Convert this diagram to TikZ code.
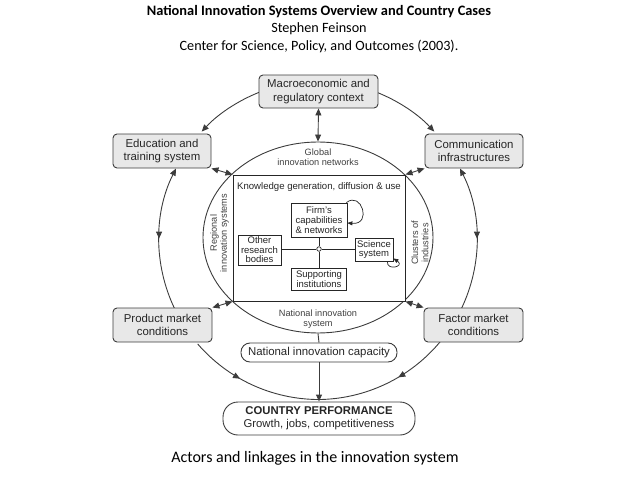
\documentclass[tikz,border=0pt]{standalone}
\usepackage{fontspec}
\setmainfont{Liberation Sans}
\newfontfamily\calib{Carlito}
\usetikzlibrary{arrows.meta,decorations.markings,shapes.geometric}
\definecolor{boxfill}{RGB}{232,232,232}
\definecolor{linec}{RGB}{60,60,60}
\begin{document}
\begin{tikzpicture}[x=1pt,y=1pt,
  box/.style={draw=linec, fill=boxfill, rounded corners=4pt, line width=0.9pt, align=center,
    font=\fontsize{11.4}{13.6}\selectfont, text=black!85, inner sep=0pt},
  pill/.style={draw=linec, fill=white, line width=0.9pt, align=center, text=black!85, inner sep=0pt},
  ibox/.style={draw=black!85, fill=white, line width=0.8pt, align=center,
    font=\fontsize{9.5}{9.6}\selectfont, text=black!85, inner sep=0pt},
  lbl/.style={align=center, font=\fontsize{9.2}{10.2}\selectfont, text=black!75, inner sep=0pt},
  ttl/.style={font=\calib\fontsize{14.2}{16}\selectfont, inner sep=0pt},
  tipA/.style={-{Triangle[length=7pt,width=6pt]}},
  dbl/.style={{Triangle[length=7pt,width=6pt]}-{Triangle[length=7pt,width=6pt]}},
  conn/.style={draw=linec, line width=0.9pt},
  midarrow/.style={postaction={decorate}, decoration={markings,
    mark=at position #1 with {\arrow{Triangle[length=7pt,width=6pt]}}}},
  small/.style={-{Triangle[length=5pt,width=4pt]}, line width=0.7pt, draw=black!85}
]
\useasboundingbox (0,0) rectangle (638,-479);

% titles
\node[ttl, font=\calib\bfseries\fontsize{14.4}{16}\selectfont] (t1) at (319,-12) {National Innovation Systems Overview and Country Cases};
\node[ttl] (t2) at (319,-29) {Stephen Feinson};
\node[ttl] (t3) at (319,-46) {Center for Science, Policy, and Outcomes (2003).};
\node[font=\calib\fontsize{16}{18}\selectfont, inner sep=0pt] (cap1) at (315,-458) {Actors and linkages in the innovation system};

% outer circle arcs
\coordinate (C) at (318,-240);
\coordinate (m1) at ([shift={(111.5:159)}]C);
\coordinate (m2) at ([shift={(68.5:159)}]C);
\coordinate (e2) at ([shift={(153.3:159)}]C);
\coordinate (c2) at ([shift={(26.7:159)}]C);
\coordinate (p2) at ([shift={(220.8:159)}]C);
\coordinate (f2) at ([shift={(-39.2:159)}]C);
\draw[conn, tipA] (m1) arc[start angle=111.5, end angle=137, radius=159];
\draw[conn, tipA] (m2) arc[start angle=68.5, end angle=43, radius=159];
\draw[conn, {Triangle[length=7pt,width=6pt]}-, midarrow=0.5] (e2) arc[start angle=153.3, end angle=205.7, radius=159];
\draw[conn, {Triangle[length=7pt,width=6pt]}-, midarrow=0.5] (c2) arc[start angle=26.7, end angle=-25.7, radius=159];
\draw[conn, midarrow=0.4] (p2) arc[start angle=220.8, end angle=270, radius=160.5];
\draw[conn, midarrow=0.4] (f2) arc[start angle=-39.2, end angle=-90, radius=160.5];

% inner ellipse and rectangle
\node[ellipse, draw=linec, line width=0.9pt, minimum width=230, minimum height=191, inner sep=0pt] (ell) at (318,-237.5) {};
\node[draw=black!85, fill=white, line width=1pt, minimum width=172, minimum height=126, inner sep=0pt] (know) at (319,-238) {};

% outer boxes
\node[box, minimum width=119, minimum height=33] (macro) at (318.5,-91.5) {Macroeconomic and\\regulatory context};
\node[box, minimum width=98, minimum height=34] (edu) at (162,-151) {Education and\\training system};
\node[box, minimum width=98, minimum height=34] (comm) at (474,-151) {Communication\\infrastructures};
\node[box, minimum width=99, minimum height=34] (prod) at (162.5,-325) {Product market\\conditions};
\node[box, minimum width=99, minimum height=34] (fact) at (473.5,-325) {Factor market\\conditions};
\node[pill, rounded corners=9pt, minimum width=156, minimum height=19, font=\fontsize{11.4}{13}\selectfont] (cap) at (319,-352.5) {National innovation capacity};
\node[pill, rounded corners=15pt, minimum width=192, minimum height=33, font=\fontsize{11.3}{12.6}\selectfont] (perf) at (319,-418.5) {\textbf{COUNTRY PERFORMANCE}\\Growth, jobs, competitiveness};

% labels
\node[lbl] (glob) at (318,-157) {Global\\innovation networks};
\node[lbl] (nis) at (318,-319) {National innovation\\system};
\node[lbl, rotate=90] (reg) at (219.5,-233) {Regional\\innovation systems};
\node[lbl, rotate=90] (clu) at (420,-243) {Clusters of\\industries};
\node[lbl, text=black!85, font=\fontsize{9.6}{10.6}\selectfont] (kgd) at (319,-187) {Knowledge generation, diffusion \& use};

% inner boxes
\node[ibox, minimum width=56, minimum height=34, font=\fontsize{9.5}{10}\selectfont] (firm) at (319,-220) {Firm's\\capabilities\\\& networks};
\node[ibox, minimum width=43, minimum height=30] (other) at (259.5,-250) {Other\\research\\bodies};
\node[ibox, minimum width=38, minimum height=23] (sci) at (374,-249.5) {Science\\system};
\node[ibox, minimum width=55, minimum height=22] (supp) at (319,-279) {Supporting\\institutions};
\node[circle, draw=black!85, fill=white, line width=0.7pt, minimum size=4.5pt, inner sep=0pt] (hub) at (319,-249) {};
\draw[line width=0.8pt, draw=black!85] (firm.south) -- (hub.north);
\draw[line width=0.8pt, draw=black!85] (hub.south) -- (supp.north);
\draw[line width=0.8pt, draw=black!85] (hub.west -| other.east) -- (hub.west);
\draw[line width=0.8pt, draw=black!85] (hub.east) -- (hub.east -| sci.west);

% self loops
\draw[small] ([xshift=-1pt]firm.north east) .. controls +(15,12) and +(25,-2) .. ([yshift=-3pt]firm.east);
\draw[small] ([xshift=-6pt]sci.south east) .. controls +(-1,-10) and +(12,-8) .. ([yshift=3pt]sci.south east);

% connectors
\draw[conn, dbl] (macro.south) -- (ell.north);
\draw[conn] (ell.south) -- (cap.north);
\draw[conn, tipA] (cap.south) -- (perf.north);
\draw[conn, dbl] (edu.south east) -- (know.north west);
\draw[conn, dbl] (comm.south west) -- (know.north east);
\draw[conn, dbl] (prod.north east) -- (know.south west);
\draw[conn, dbl] (fact.north west) -- (know.south east);
\end{tikzpicture}
\end{document}
